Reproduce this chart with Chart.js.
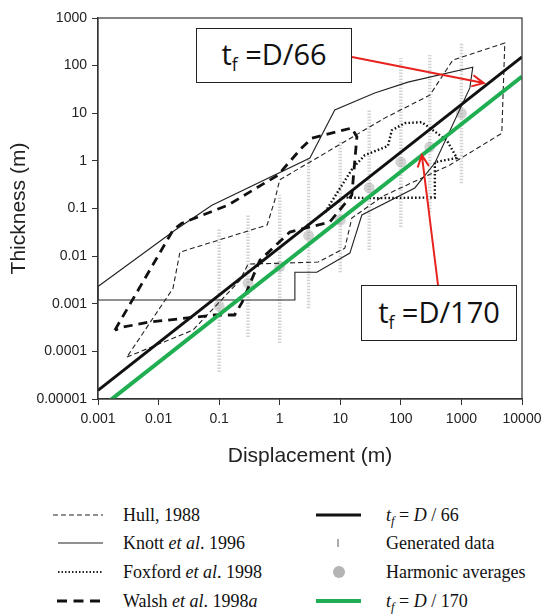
<!DOCTYPE html>
<html>
<head>
<meta charset="utf-8">
<script src="https://cdn.jsdelivr.net/npm/chart.js@4.4.1/dist/chart.umd.min.js"></script>
<style>
body { margin:0; background:#fff; width:550px; height:615px; overflow:hidden; position:relative; }
#wrap { position:absolute; left:0; top:0; width:550px; height:470px; }
.note { position:absolute; box-sizing:border-box; border:1.5px solid #222; background:#fff;
        font-family:'Open Sans', 'Noto Sans', sans-serif; font-size:29px; color:#111;
        text-align:center; white-space:pre; }
.note span { display:inline-block; }
.note sub { font-size:60%; vertical-align:-0.35em; line-height:0; }
.lg { position:absolute; font-family:'Liberation Serif', 'Times New Roman', serif; font-size:18px;
      line-height:22px; color:#111; white-space:nowrap; }
.lg sub { font-size:70%; vertical-align:-0.3em; line-height:0; }
#swatch { position:absolute; left:0; top:470px; }
</style>
</head>
<body>
<div id="wrap"><canvas id="chart"></canvas></div>
<div class="note" style="left:196px;top:28px;width:156px;height:55px;line-height:50px;"><span>t<sub>f</sub> =D/66</span></div>
<div class="note" style="left:361px;top:285px;width:156px;height:56px;line-height:51px;"><span>t<sub>f</sub> =D/170</span></div>

<svg id="swatch" width="550" height="145">
  <line x1="53" y1="45" x2="103" y2="45" stroke="#222" stroke-width="1.2" stroke-dasharray="5,3"/>
  <line x1="58" y1="73" x2="103" y2="73" stroke="#222" stroke-width="1.2"/>
  <line x1="58" y1="102" x2="102" y2="102" stroke="#222" stroke-width="2.2" stroke-dasharray="1.5,2"/>
  <line x1="57" y1="131" x2="101" y2="131" stroke="#111" stroke-width="3" stroke-dasharray="10,6.5"/>
  <line x1="316" y1="45" x2="361" y2="45" stroke="#111" stroke-width="3"/>
  <line x1="338" y1="69" x2="338" y2="77" stroke="#aaa" stroke-width="2"/>
  <circle cx="339" cy="102" r="6" fill="#b4b4b4"/>
  <line x1="316" y1="131" x2="361" y2="131" stroke="#1fae52" stroke-width="4"/>
</svg>
<div class="lg" style="left:123px;top:504px;">Hull, 1988</div>
<div class="lg" style="left:123px;top:532px;">Knott <i>et al</i>. 1996</div>
<div class="lg" style="left:123px;top:561px;">Foxford <i>et al</i>. 1998</div>
<div class="lg" style="left:123px;top:590px;">Walsh <i>et al</i>. 1998<i>a</i></div>
<div class="lg" style="left:386px;top:504px;"><i>t<sub>f</sub></i> = <i>D</i> / 66</div>
<div class="lg" style="left:386px;top:532px;">Generated data</div>
<div class="lg" style="left:386px;top:561px;">Harmonic averages</div>
<div class="lg" style="left:386px;top:590px;"><i>t<sub>f</sub></i> = <i>D</i> / 170</div>

<script>
// axis ticks
const xTickValues = [0.001, 0.01, 0.1, 1, 10, 100, 1000, 10000];
const xTickLabels = ['0.001', '0.01', '0.1', '1', '10', '100', '1000', '10000'];
const yTickValues = [0.00001, 0.0001, 0.001, 0.01, 0.1, 1, 10, 100, 1000];
const yTickLabels = ['0.00001', '0.0001', '0.001', '0.01', '0.1', '1', '10', '100', '1000'];

// envelopes (displacement m, thickness m)
const hullD = [0.003, 0.037, 0.22, 0.30, 4.3, 11.9, 15.5, 50, 644, 4640, 5200, 721, 301, 54, 1.0, 0.83, 0.62, 0.0225, 0.0173, 0.003];
const hullT = [0.000076, 0.00028, 0.0031, 0.0068, 0.0075, 0.0147, 0.063, 0.18, 0.82, 3.8, 298, 131, 24, 7.9, 0.40, 0.15, 0.045, 0.0121, 0.0021, 0.000076];

const knottD = [0.001, 0.001, 0.0186, 0.076, 3.15, 8.1, 37, 131, 1540, 1377, 1054, 364, 170, 22.7, 14.4, 4.1, 1.78, 1.78, 0.001];
const knottT = [0.0012, 0.0023, 0.035, 0.117, 1.15, 11.7, 26.5, 45, 93, 34, 16.4, 0.9, 0.27, 0.073, 0.0116, 0.0046, 0.0046, 0.0012, 0.0012];

const foxD = [5.6, 16.1, 25.5, 61, 71, 116, 222, 574, 840, 364, 364, 37, 11, 5.6];
const foxT = [0.084, 0.71, 1.32, 2.05, 4.4, 6.2, 6.5, 2.7, 1.15, 0.94, 0.17, 0.165, 0.17, 0.084];

const walshD = [0.0019, 0.0173, 0.0243, 0.14, 0.93, 2.3, 3.4, 15.5, 18.8, 15.5, 6.7, 1.47, 0.47, 0.24, 0.18, 0.085, 0.0067, 0.0025, 0.0019];
const walshT = [0.00028, 0.035, 0.049, 0.118, 0.50, 1.86, 3.0, 4.9, 3.2, 0.19, 0.052, 0.032, 0.0082, 0.00108, 0.00058, 0.00058, 0.00041, 0.00032, 0.00028];

// generated data columns and harmonic averages
const genD = [0.1, 0.3, 1, 3, 10, 30, 100, 300, 1000];
const genLo = [0.000037, 0.0002, 0.00015, 0.0008, 0.0046, 0.0135, 0.041, 0.083, 0.34];
const genHi = [0.039, 0.073, 0.19, 1.15, 2.7, 11.6, 145, 167, 297];
const harmT = [0.0009, 0.0027, 0.006, 0.027, 0.057, 0.27, 0.94, 1.95, 10];

// fitted lines t_f = D/66 and t_f = D/170
const fitD = [0.001, 10000];
const fit66T = [0.0000152, 152];
const fit170T = [0.0000059, 59];

// arrow tips (on the fitted lines)
const arrowTipD = [2340, 222];
const arrowTipT = [43, 1.32];
const arrowTails = [[352, 57], [438, 285]];

const pts = (xs, ys) => xs.map((v, i) => ({x: v, y: ys[i]}));
const FONT = "'Liberation Sans', Arial, sans-serif";

const datasets = [
    { data: pts(fitD, fit170T), borderColor: '#1fae52', borderWidth: 4 },
    { data: pts(fitD, fit66T), borderColor: '#111', borderWidth: 3 },
    { data: pts(walshD, walshT), borderColor: '#111', borderWidth: 2.8, borderDash: [9, 6] },
    { data: pts(foxD, foxT), borderColor: '#111', borderWidth: 2.4, borderDash: [1.6, 2.2] },
    { data: pts(knottD, knottT), borderColor: '#222', borderWidth: 1.1 },
    { data: pts(hullD, hullT), borderColor: '#222', borderWidth: 1.1, borderDash: [5, 3] },
    { data: pts(genD, harmT), showLine: false, pointRadius: 5.5, backgroundColor: 'rgba(160,160,160,0.45)', borderWidth: 0 }
];
genD.forEach((d, i) => {
    datasets.push({ data: [{x: d, y: genLo[i]}, {x: d, y: genHi[i]}], borderColor: 'rgba(140,140,140,0.38)', borderWidth: 3.5, borderDash: [1.5, 1.5] });
});
datasets.forEach(ds => {
    if (ds.showLine === undefined) ds.showLine = true;
    if (ds.pointRadius === undefined) ds.pointRadius = 0;
    ds.tension = 0;
    ds.fill = false;
});

function drawArrow(ctx, x1, y1, x2, y2) {
    const a = Math.atan2(y2 - y1, x2 - x1);
    const len = 13, spread = 0.45;
    ctx.beginPath();
    ctx.moveTo(x1, y1);
    ctx.lineTo(x2, y2);
    ctx.moveTo(x2 - len * Math.cos(a - spread), y2 - len * Math.sin(a - spread));
    ctx.lineTo(x2, y2);
    ctx.lineTo(x2 - len * Math.cos(a + spread), y2 - len * Math.sin(a + spread));
    ctx.stroke();
}

const framePlugin = {
    id: 'frame',
    afterDatasetsDraw(chart) {
        const {ctx, chartArea: a, scales: {x, y}} = chart;
        ctx.save();
        ctx.strokeStyle = '#333';
        ctx.lineWidth = 1.2;
        ctx.strokeRect(a.left, a.top, a.right - a.left, a.bottom - a.top);
        ctx.strokeStyle = '#e8231f';
        ctx.lineWidth = 2;
        arrowTails.forEach((t, i) => {
            drawArrow(ctx, t[0], t[1], x.getPixelForValue(arrowTipD[i]), y.getPixelForValue(arrowTipT[i]));
        });
        ctx.restore();
    }
};

new Chart(document.getElementById('chart'), {
    type: 'scatter',
    data: { datasets },
    plugins: [framePlugin],
    options: {
        responsive: true,
        maintainAspectRatio: false,
        animation: false,
        layout: { padding: { top: 18, right: 28, left: 0, bottom: 0 } },
        plugins: { legend: { display: false }, tooltip: { enabled: false } },
        scales: {
            x: {
                type: 'logarithmic', min: 0.001, max: 10000,
                afterBuildTicks: s => { s.ticks = xTickValues.map(v => ({value: v})); },
                afterFit: s => { s.height = 71; },
                ticks: { callback: (v, i) => xTickLabels[i], font: {family: FONT, size: 14}, color: '#222', padding: 6, maxRotation: 0, autoSkip: false },
                grid: { drawOnChartArea: false, tickLength: 6, color: '#333' },
                border: { color: '#333', width: 1.2 },
                title: { display: true, text: 'Displacement (m)', font: {family: FONT, size: 21}, color: '#222', padding: {top: 0, bottom: 1} }
            },
            y: {
                type: 'logarithmic', min: 0.00001, max: 1000,
                afterBuildTicks: s => { s.ticks = yTickValues.map(v => ({value: v})); },
                afterFit: s => { s.width = 98; },
                ticks: { callback: (v, i) => yTickLabels[i], font: {family: FONT, size: 14}, color: '#222', padding: 5, autoSkip: false },
                grid: { drawOnChartArea: false, tickLength: 6, color: '#333' },
                border: { color: '#333', width: 1.2 },
                title: { display: true, text: 'Thickness (m)', font: {family: FONT, size: 21}, color: '#222', padding: {top: 7, bottom: 0} }
            }
        }
    }
});
</script>
</body>
</html>
